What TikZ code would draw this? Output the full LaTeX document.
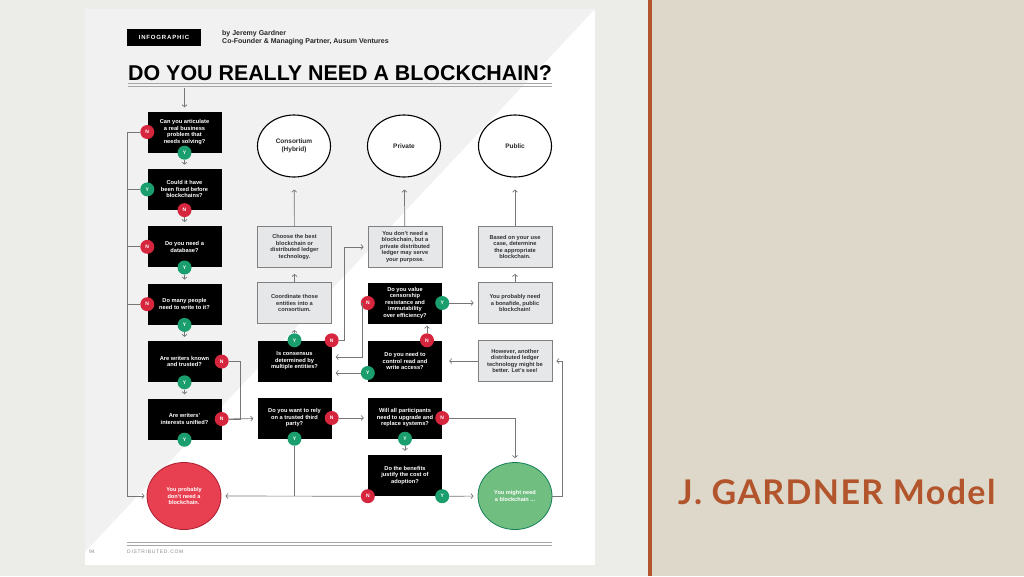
\documentclass[tikz,border=0pt]{standalone}
\usepackage{fontspec}
\setmainfont{Liberation Sans}
\newfontfamily\slidefont[LetterSpace=4]{Lato}
\newfontfamily\spacedfont[LetterSpace=14]{Liberation Sans}
\usepackage{tikz}
\usetikzlibrary{shapes, arrows.meta, positioning, calc}
\definecolor{slidegray}{RGB}{236, 236, 233}
\definecolor{slidebeige}{RGB}{221, 216, 201}
\definecolor{accent}{RGB}{178, 84, 44}
\definecolor{pagegray}{RGB}{241, 241, 241}
\definecolor{advicegray}{RGB}{230, 231, 233}
\definecolor{adviceedge}{RGB}{128, 128, 128}
\definecolor{yesgreen}{RGB}{26, 158, 110}
\definecolor{nored}{RGB}{214, 38, 62}
\definecolor{nopered}{RGB}{232, 64, 80}
\definecolor{maybegreen}{RGB}{112, 190, 128}
\definecolor{wiregray}{RGB}{118, 118, 118}
\newcommand{\boxfont}{\fontsize{5.7}{6.5}\selectfont\bfseries}
\tikzset{
    question/.style={
        rectangle,
        fill=black,
        text=white,
        minimum width=74pt,
        minimum height=41pt,
        inner sep=0pt,
        align=center,
        font=\boxfont
    },
    advice/.style={question, fill=advicegray, draw=adviceedge, line width=0.8pt, text=black!80},
    outcome/.style={
        ellipse,
        draw=black,
        line width=1.1pt,
        fill=white,
        minimum width=73pt,
        minimum height=62pt,
        inner sep=0pt,
        align=center,
        text=black!85,
        font=\fontsize{6.5}{8}\selectfont\bfseries
    },
    verdict/.style={
        ellipse,
        minimum width=74pt,
        minimum height=67pt,
        inner sep=0pt,
        line width=0.8pt,
        align=center,
        text=white,
        font=\fontsize{5.6}{6.6}\selectfont\bfseries
    },
    badge/.style={circle, minimum size=14pt, inner sep=0pt, text=white, font=\fontsize{5}{5}\selectfont\bfseries},
    yesbadge/.style={badge, fill=yesgreen},
    nobadge/.style={badge, fill=nored},
    line/.style={draw=wiregray, line width=0.7pt, -{Straight Barb[length=2.2pt,width=5pt]}, shorten >=4pt},
    wire/.style={draw=wiregray, line width=0.7pt}
}
\begin{document}
\begin{tikzpicture}[x=1pt, y=-1pt]
    \useasboundingbox (0,0) rectangle (1024,576);

    % Slide and page
    \fill[slidegray] (0,0) rectangle (650,576);
    \fill[slidebeige] (650,0) rectangle (1024,576);
    \fill[accent] (648,0) rectangle (652,576);
    \fill[white] (85,9) rectangle (595,565);
    \fill[pagegray] (85,9) -- (595,9) -- (85,552) -- cycle;

    % Header
    \node[fill=black, text=white, minimum width=74pt, minimum height=17pt, inner sep=0pt,
          font=\fontsize{6}{7}\spacedfont\bfseries] (tag) at (164,37.5) {INFOGRAPHIC};
    \node[anchor=north west, align=left, inner sep=0pt, text=black!85,
          font=\fontsize{7}{8.6}\selectfont\bfseries] (byline) at (222,30)
          {by Jeremy Gardner\\Co-Founder \& Managing Partner, Ausum Ventures};
    \node[anchor=base west, inner sep=0pt, font=\fontsize{21.4}{21.4}\selectfont\bfseries] (title) at (128,80)
          {DO YOU REALLY NEED A BLOCKCHAIN?};
    \draw[gray!70, line width=0.9pt] (128,83.5) -- (552,83.5);
    \draw[gray!70, line width=0.9pt] (128,86.5) -- (552,86.5);
    \coordinate (start) at (184.5,88);

    % Left column
    \node[question] (q1) at (184.5,132) {Can you articulate\\a real business\\problem that\\needs solving?};
    \node[question, below=16pt of q1] (q2) {Could it have\\been fixed before\\blockchains?};
    \node[question, below=16pt of q2] (q3) {Do you need a\\database?};
    \node[question, below=16pt of q3] (q4) {Do many people\\need to write to it?};
    \node[question, below=16pt of q4] (q5) {Are writers known\\and trusted?};
    \node[question, below=16pt of q5] (q6) {Are writers'\\interests unified?};

    % Outcomes
    \node[outcome] (consortium) at (294,146) {Consortium\\(Hybrid)};
    \node[outcome] (private) at (404,146) {Private};
    \node[outcome] (public) at (515,146) {Public};

    % Middle and right
    \node[advice] (choose) at (294.5,247) {Choose the best\\blockchain or\\distributed ledger\\technology.};
    \node[advice] (nochain) at (405,247) {You don't need a\\blockchain, but a\\private distributed\\ledger may serve\\your purpose.};
    \node[advice] (based) at (515,247) {Based on your use\\case, determine\\the appropriate\\blockchain.};
    \node[advice] (coord) at (294.5,303) {Coordinate those\\entities into a\\consortium.};
    \node[question] (cens) at (405,303) {Do you value\\censorship\\resistance and\\immutability\\over efficiency?};
    \node[advice] (bonafide) at (515,303) {You probably need\\a bonafide, public\\blockchain!};
    \node[question] (cons) at (294.5,361) {Is consensus\\determined by\\multiple entities?};
    \node[question] (ctrl) at (405,361) {Do you need to\\control read and\\write access?};
    \node[advice] (however) at (515,361) {However, another\\distributed ledger\\technology might be\\better. Let's see!};
    \node[question] (rely) at (294.5,418) {Do you want to rely\\on a trusted third\\party?};
    \node[question] (upgrade) at (405,418) {Will all participants\\need to upgrade and\\replace systems?};
    \node[question] (benefit) at (405,475.5) {Do the benefits\\justify the cost of\\adoption?};

    \node[verdict, fill=nopered, draw=nored!80!black] (nope) at (184,496) {You probably\\don't need a\\blockchain.};
    \node[verdict, fill=maybegreen, draw=yesgreen!80!black] (maybe) at (515,496) {You might need\\a blockchain ...};

    % Badges
    \node[nobadge] (q1n) at (q1.west) {N};
    \node[yesbadge] (q1y) at (q1.south) {Y};
    \node[yesbadge] (q2y) at (q2.west) {Y};
    \node[nobadge] (q2n) at (q2.south) {N};
    \node[nobadge] (q3n) at (q3.west) {N};
    \node[yesbadge] (q3y) at (q3.south) {Y};
    \node[nobadge] (q4n) at (q4.west) {N};
    \node[yesbadge] (q4y) at (q4.south) {Y};
    \node[nobadge] (q5n) at (q5.east) {N};
    \node[yesbadge] (q5y) at (q5.south) {Y};
    \node[nobadge] (q6n) at (q6.east) {N};
    \node[yesbadge] (q6y) at (q6.south) {Y};
    \node[yesbadge] (consy) at (cons.north) {Y};
    \node[nobadge] (consn) at (cons.north east) {N};
    \node[nobadge] (censn) at (cens.west) {N};
    \node[yesbadge] (censy) at (cens.east) {Y};
    \node[nobadge] (ctrln) at ([xshift=22pt]ctrl.north) {N};
    \node[yesbadge] (ctrly) at ([yshift=-12pt]ctrl.west) {Y};
    \node[nobadge] (relyn) at (rely.east) {N};
    \node[yesbadge] (relyy) at (rely.south) {Y};
    \node[nobadge] (upgraden) at (upgrade.east) {N};
    \node[yesbadge] (upgradey) at (upgrade.south) {Y};
    \node[nobadge] (benefitn) at (benefit.south west) {N};
    \node[yesbadge] (benefity) at (benefit.south east) {Y};

    % Connections, left column
    \coordinate (bus) at (127,132);
    \path[line] (start) -- (q1);
    \path[line] (q1y) -- (q2);
    \path[line] (q2n) -- (q3);
    \path[line] (q3y) -- (q4);
    \path[line] (q4y) -- (q5);
    \path[line] (q5y) -- (q6);
    \path[line, shorten >=2pt] (q1n) -- (bus) |- (nope);
    \path[wire] (q2y) -- (q2y -| bus);
    \path[wire] (q3n) -- (q3n -| bus);
    \path[wire] (q4n) -- (q4n -| bus);
    \path[wire] (q5n) -- ++(19,0) |- (q6n);
    \path[line] (q6n) -- (rely);

    % Connections, middle
    \path[line, shorten >=12pt] (choose) -- (consortium);
    \path[line, shorten >=6pt] (coord) -- (choose);
    \path[line, shorten >=6pt] (consy) -- (coord);
    \path[line] (consn) -- ++(13,0) |- (nochain);
    \path[line, shorten >=12pt] (nochain) -- (private);
    \path[line] (censn) -- ++(-5,0) |- ([yshift=4pt]cons.east);
    \path[line] (ctrly) -- (ctrly -| cons.east);
    \path[line, shorten >=2pt] (ctrln) -- (ctrln |- cens.south);
    \path[line] (censy) -- (bonafide);
    \path[line, shorten >=6pt] (bonafide) -- (based);
    \path[line, shorten >=12pt] (based) -- (public);
    \path[line, shorten >=7pt] (however) -- (ctrl);
    \path[line] (maybe.east) -- ++(10,0) |- (however.east);

    % Connections, bottom
    \path[line] (relyn) -- (upgrade);
    \path[line] (upgradey) -- (benefit);
    \path[line] (upgraden) -| (maybe);
    \path[line] (benefity) -- (maybe);
    \path[line] (benefitn) -- (nope);
    \path[wire] (relyy) -- (relyy |- nope);

    % Footer
    \draw[gray!70, line width=0.9pt] (127,542) -- (552,542);
    \draw[gray!70, line width=0.9pt] (127,545) -- (552,545);
    \node[anchor=base west, inner sep=0pt, text=black!45, font=\fontsize{5}{6}\spacedfont] (site) at (127,553) {DISTRIBUTED.COM};
    \node[anchor=base west, inner sep=0pt, text=black!45, font=\fontsize{5}{6}\selectfont] (pageno) at (89,553) {94};

    % Slide title
    \node[anchor=base west, inner sep=0pt, text=accent, font=\fontsize{34}{34}\slidefont\bfseries] (slidetitle) at (678,504) {J. GARDNER Model};

\end{tikzpicture}
\end{document}
